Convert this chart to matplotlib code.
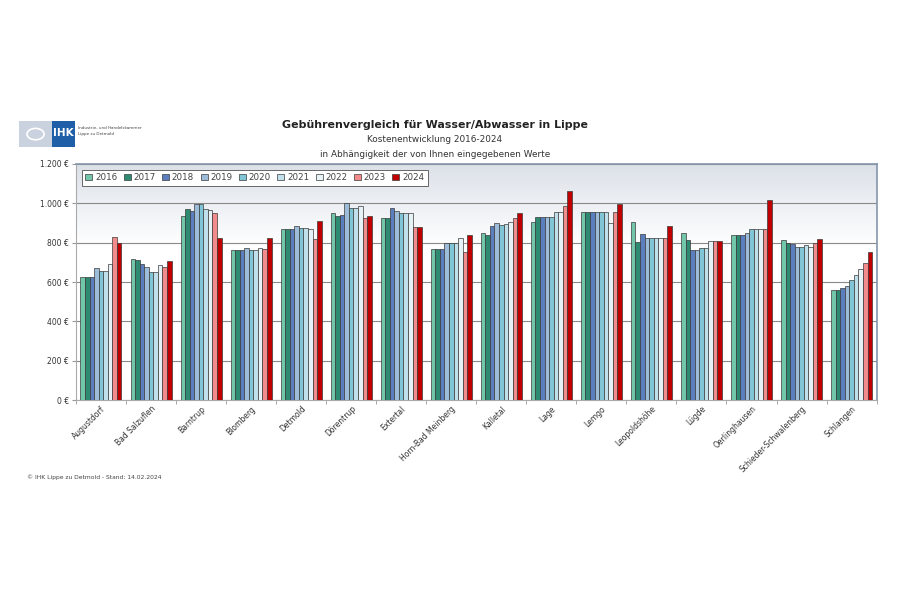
import numpy as np
import matplotlib
matplotlib.use("Agg")
import matplotlib.pyplot as plt
from matplotlib.patches import Rectangle, Circle

# Gemeinden (x-Achse)
orte = ["Augustdorf", "Bad Salzuflen", "Barntrup", "Blomberg", "Detmold", "Dörentrup",
        "Extertal", "Horn-Bad Meinberg", "Kalletal", "Lage", "Lemgo", "Leopoldshöhe",
        "Lügde", "Oerlinghausen", "Schieder-Schwalenberg", "Schlangen"]

jahre = ["2016", "2017", "2018", "2019", "2020", "2021", "2022", "2023", "2024"]

# Kosten je Jahr (EUR)
w2016 = [624, 719, 936, 763, 868, 949, 925, 768, 847, 907, 954, 903, 847, 837, 814, 559]
w2017 = [624, 712, 969, 763, 868, 936, 925, 768, 837, 931, 954, 805, 814, 837, 800, 559]
w2018 = [624, 692, 959, 763, 868, 939, 975, 768, 885, 931, 954, 842, 763, 837, 792, 569]
w2019 = [669, 676, 995, 773, 883, 1000, 961, 798, 898, 931, 954, 825, 763, 847, 776, 580]
w2020 = [654, 651, 998, 763, 873, 978, 949, 798, 888, 932, 954, 825, 773, 871, 776, 610]
w2021 = [654, 651, 973, 763, 873, 978, 949, 798, 893, 954, 954, 825, 773, 871, 788, 636]
w2022 = [690, 686, 964, 771, 868, 988, 949, 822, 903, 954, 900, 825, 808, 871, 776, 666]
w2023 = [827, 676, 951, 768, 817, 924, 880, 751, 924, 985, 954, 822, 808, 871, 797, 697]
w2024 = [798, 705, 824, 825, 910, 937, 880, 839, 953, 1061, 997, 885, 808, 1015, 819, 753]
werte = [w2016, w2017, w2018, w2019, w2020, w2021, w2022, w2023, w2024]

farben = ["#72c7ab", "#2f8a72", "#5b7ebf", "#9dbcda", "#80c6d6",
          "#c0e1eb", "#e6f2f6", "#f28c8c", "#c00000"]

fig = plt.figure(figsize=(9, 6), dpi=100)
ax = fig.add_axes([0.0844, 0.3333, 0.8896, 0.3934])

n = len(orte)
x = np.arange(n)
bw = 0.091
for i, (j, v) in enumerate(zip(jahre, werte)):
    ax.bar(x - 4 * bw + i * bw, v, width=bw, color=farben[i], edgecolor="#3a3a3a",
           linewidth=0.5, label=j, zorder=3)

# leichter Verlauf im Hintergrund (oben grau-blau, nach unten weiss)
t = np.clip(np.linspace(0, 1, 256) / 0.35, 0, 1)
top = np.array([0.86, 0.88, 0.91])
rgb = top[None, :] * (1 - t[:, None]) + np.ones(3)[None, :] * t[:, None]
ax.imshow(rgb.reshape(256, 1, 3), extent=[-0.5, n - 0.5, 0, 1200], aspect="auto",
          zorder=0, origin="upper")

ax.set_xlim(-0.5, n - 0.5)
ax.set_ylim(0, 1200)
ax.set_yticks(range(0, 1201, 200))
ax.set_yticklabels([f"{v:,} €".replace(",", ".") for v in range(0, 1201, 200)],
                   fontsize=5.5, color="#333333")
ax.yaxis.grid(True, color="#8a8a8a", linewidth=0.8, zorder=1)
ax.set_axisbelow(True)

ax.set_xticks(x)
ax.set_xticklabels(orte, rotation=45, ha="right", rotation_mode="anchor",
                   fontsize=5.5, color="#333333")
ax.tick_params(axis="x", length=0, pad=3)
ax.set_xticks(np.arange(-0.5, n, 1), minor=True)
ax.tick_params(axis="x", which="minor", length=3, color="#999999")
ax.tick_params(axis="y", length=3, color="#999999", pad=2)

for s in ["top", "right"]:
    ax.spines[s].set_color("#8496ab")
    ax.spines[s].set_linewidth(1.2)
for s in ["left", "bottom"]:
    ax.spines[s].set_color("#aaaaaa")
    ax.spines[s].set_linewidth(0.8)

leg = ax.legend(loc="upper left", bbox_to_anchor=(0.002, 0.995), ncol=9, fontsize=6.3,
                frameon=True, fancybox=False, edgecolor="#666666", handlelength=0.8,
                handleheight=0.8, handletextpad=0.3, columnspacing=0.75,
                borderpad=0.4, labelcolor="#444444", framealpha=1)
leg.get_frame().set_linewidth(0.7)
leg.get_frame().set_facecolor("white")

# Titel
fig.text(0.483, 0.792, "Gebührenvergleich für Wasser/Abwasser in Lippe", ha="center",
         va="center", fontsize=7.9, fontweight="bold", color="#222222")
fig.text(0.483, 0.767, "Kostenentwicklung 2016-2024", ha="center", va="center",
         fontsize=6.4, color="#333333")
fig.text(0.483, 0.742, "in Abhängigkeit der von Ihnen eingegebenen Werte", ha="center",
         va="center", fontsize=6.4, color="#333333")

# Logo
fig.patches.append(Rectangle((0.021, 0.755), 0.037, 0.043, transform=fig.transFigure,
                             facecolor="#c9d2de", edgecolor="none"))
fig.patches.append(Circle((0.0395, 0.7765), 0.0095, transform=fig.transFigure,
                          facecolor="none", edgecolor="white", linewidth=1.2))
fig.patches.append(Rectangle((0.058, 0.755), 0.025, 0.043, transform=fig.transFigure,
                             facecolor="#1f5fa8", edgecolor="none"))
fig.text(0.0705, 0.778, "IHK", ha="center", va="center", fontsize=7.5,
         fontweight="bold", color="white")
fig.text(0.087, 0.786, "Industrie- und Handelskammer", fontsize=3, color="#444444",
         va="center")
fig.text(0.087, 0.777, "Lippe zu Detmold", fontsize=3, color="#444444", va="center")

fig.text(0.03, 0.205, "© IHK Lippe zu Detmold - Stand: 14.02.2024", fontsize=4.3,
         color="#444444", va="center")

fig.savefig("out.png", dpi=100)
